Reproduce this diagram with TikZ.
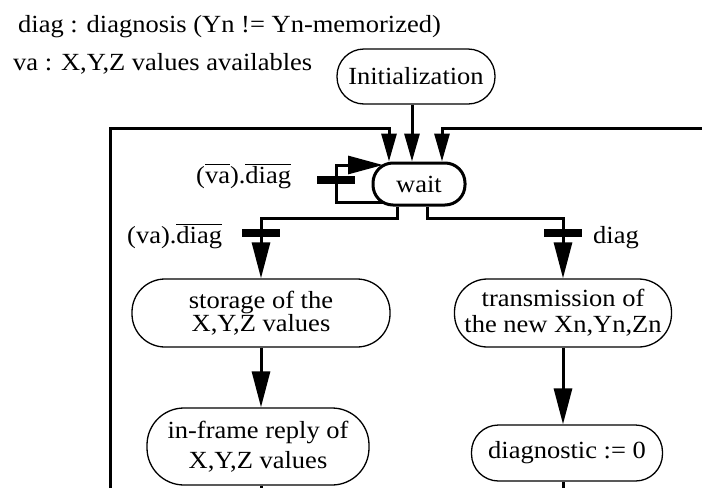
\documentclass[tikz,border=0pt]{standalone}
\usepackage{fontspec}
\setmainfont{Liberation Serif}
\usepackage{graphicx}
\usetikzlibrary{arrows.meta}
\newcommand\sy[1]{\scalebox{1}[0.93]{#1}}
\newcommand\twoline[3]{\scalebox{1}[0.93]{\vbox{\baselineskip=#1pt\lineskiplimit=-30pt\halign{\hfil##\hfil\cr#2\cr#3\cr}}}}
\tikzset{
  every node/.style={font=\fontsize{26.5}{30}\selectfont},
  box/.style={draw, line width=1.3pt, inner sep=0pt},
  flow/.style={line width=3pt},
  arr/.style={flow, -{Triangle[length=36pt,width=18pt]}},
  arrs/.style={flow, -{Triangle[length=28pt,width=15pt]}},
  arrh/.style={flow, -{Triangle[length=35pt,width=18pt]}},
  bar/.style={fill=black, minimum width=38pt, minimum height=8pt, inner sep=0pt},
  lbl/.style={inner sep=0pt, anchor=base west}
}
\begin{document}
\begin{tikzpicture}[x=1pt,y=-1pt]
\useasboundingbox (0,0) rectangle (702,488);
% boxes
\node[box, minimum width=158pt, minimum height=55pt, rounded corners=27pt] (init) at (416,76.5) {\sy{Initialization}};
\node[box, line width=3pt, minimum width=92pt, minimum height=42pt, rounded corners=20pt] (wait) at (419,184) {\sy{wait}};
\node[box, minimum width=258pt, minimum height=68pt, rounded corners=33pt] (storage) at (261,313) {\twoline{24.7}{storage of the}{X,Y,Z values}};
\node[box, minimum width=217pt, minimum height=68pt, rounded corners=33pt] (trans) at (563,313) {\twoline{28}{transmission of}{the new Xn,Yn,Zn}};
\node[box, minimum width=222pt, minimum height=77pt, rounded corners=37pt] (inframe) at (258,446.5) {\twoline{32}{in-frame reply of}{X,Y,Z values}};
\node[box, minimum width=191pt, minimum height=56pt, rounded corners=27pt] (diagn) at (567,453) {\sy{diagnostic := 0}};
% texts
\node[lbl] (h1) at (18,32) {\sy{diag : diagnosis (Yn != Yn-memorized)}};
\node[lbl] (h2) at (13,70) {\sy{va : X,Y,Z values availables}};
\node[lbl] (c0) at (196,183) {\sy{($\overline{\mbox{va\vphantom{d}}}$).$\overline{\mbox{diag}}$}};
\node[lbl] (c1) at (127,243) {\sy{(va).$\overline{\mbox{diag}}$}};
\node[lbl] (c2) at (593,243) {\sy{diag}};
% coordinates
\coordinate (lb) at (110,488);
\coordinate (tl) at (389,128);
\coordinate (tr) at (442,128);
\coordinate (rb) at (702,128);
\coordinate (im) at (412,0);
\coordinate (bl) at (397,218);
\coordinate (br) at (427,218);
\coordinate (lpa) at (384,202);
\coordinate (lpc) at (336,165);
\coordinate (lpt) at (383,165);
\coordinate (sb) at (261,488);
\coordinate (db) at (563,488);
% connectors
\draw[arrs] (lb) |- (tl) -- (tl |- wait.north);
\draw[arrs] (rb) -- (tr) -- (tr |- wait.north);
\draw[arrs] (init.south -| im) -- (im |- wait.north);
\draw[arrh] (lpa) -| (lpc) -- (lpt);
\draw[arr] (wait.south -| bl) -- (bl) -| (storage.north);
\draw[arr] (wait.south -| br) -- (br) -| (trans.north);
\draw[arr] (storage.south) -- (storage.south |- inframe.north);
\draw[arr] (trans.south) -- (trans.south |- diagn.north);
\draw[flow] (inframe.south -| sb) -- (sb);
\draw[flow] (diagn.south -| db) -- (db);
% transition bars
\node[bar] (t0) at (336,180) {};
\node[bar] (t1) at (261,233) {};
\node[bar] (t2) at (563,233) {};
\end{tikzpicture}
\end{document}
